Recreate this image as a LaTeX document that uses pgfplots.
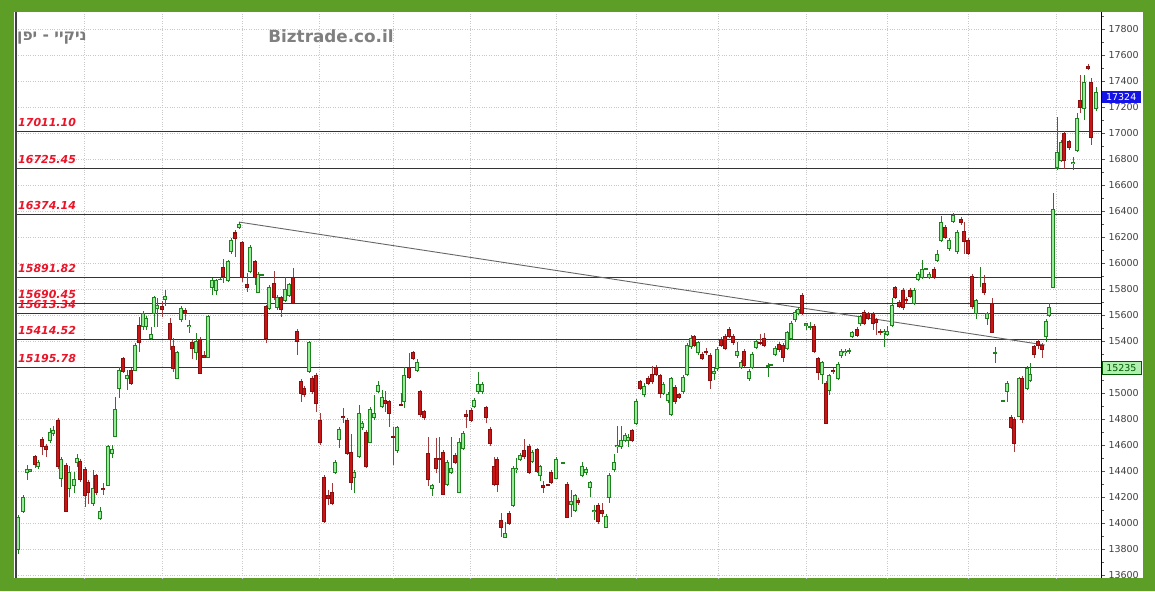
\documentclass[border=0pt]{standalone}
\usepackage{fontspec}
\setmainfont{DejaVu Sans}
\newfontfamily\hebfont[Script=Hebrew]{DejaVu Sans}
\usepackage{pgfplots}
\usepackage{pgfplotstable}
\pgfplotsset{compat=1.18}
\TeXXeTstate=1

\definecolor{frame}{RGB}{92,158,38}
\definecolor{upfill}{RGB}{150,235,150}
\definecolor{upline}{RGB}{30,130,30}
\definecolor{dnfill}{RGB}{205,20,20}
\definecolor{dnline}{RGB}{135,15,15}
\definecolor{dnwick}{RGB}{160,60,60}
\definecolor{lvl}{RGB}{235,20,40}
\definecolor{gridc}{RGB}{200,200,200}
\definecolor{boxblue}{RGB}{20,20,230}
\definecolor{boxgreen}{RGB}{175,240,175}
\definecolor{boxgreenline}{RGB}{0,90,0}

\pgfplotstableread{
x o h l c
18 13800 14062 13762 14046
23 14092 14215 14077 14200
27 14385 14446 14331 14415
30 14400 14415 14392 14408
35 14515 14523 14423 14454
38 14431 14485 14415 14469
42 14646 14662 14523 14592
46 14592 14608 14508 14562
50 14631 14731 14615 14700
53 14685 14746 14669 14715
58 14792 14808 14415 14431
61 14346 14508 14277 14492
66 14446 14462 14085 14092
69 14262 14438 14200 14392
74 14292 14392 14231 14331
77 14462 14531 14431 14500
80 14477 14492 14315 14331
85 14415 14431 14123 14208
88 14315 14331 14146 14231
93 14154 14408 14131 14269
96 14362 14377 14215 14231
100 14031 14123 14023 14085
103 14269 14308 14215 14254
108 14292 14600 14285 14585
112 14531 14600 14500 14569
115 14669 14969 14662 14877
119 15038 15200 14962 15177
123 15262 15277 15154 15169
127 15108 15177 15023 15131
131 15177 15192 15062 15077
135 15177 15385 15169 15369
139 15523 15585 15315 15385
143 15508 15631 15485 15615
146 15508 15592 15485 15577
151 15423 15508 15408 15454
154 15615 15746 15508 15731
157 15654 15731 15508 15677
162 15662 15708 15585 15646
165 15723 15792 15669 15746
170 15531 15577 15331 15408
173 15354 15423 15162 15185
177 15115 15323 15108 15308
181 15562 15669 15546 15654
185 15638 15654 15562 15615
189 15508 15562 15462 15523
192 15385 15408 15262 15346
196 15315 15462 15254 15400
200 15415 15431 15146 15154
204 15292 15323 15269 15277
208 15277 15600 15269 15585
212 15815 15885 15754 15869
216 15792 15877 15754 15869
220 15873 15885 15869 15877
223 15962 16031 15846 15900
228 15862 16023 15854 16008
231 16085 16192 16069 16177
235 16231 16254 16046 16185
239 16277 16315 16262 16300
242 16154 16169 15854 15892
247 15838 15923 15777 15815
250 15931 16138 15923 16123
255 16008 16023 15831 15892
258 15777 15931 15769 15915
262 15905 15915 15900 15908
266 15662 15677 15385 15423
269 15654 15831 15638 15815
274 15846 15938 15715 15738
277 15654 15754 15638 15738
281 15731 15746 15585 15646
285 15715 15892 15700 15800
289 15754 15846 15738 15831
293 15892 15962 15685 15692
297 15477 15492 15292 15400
301 15092 15108 14931 15000
304 15038 15054 14969 14985
309 15162 15400 15154 15385
312 15115 15131 14992 15008
316 15138 15154 14854 14923
320 14792 14846 14600 14623
324 14354 14369 14000 14008
328 14215 14254 14138 14185
332 14238 14308 14138 14154
335 14392 14485 14377 14469
339 14646 14738 14577 14723
343 14823 14885 14769 14808
347 14792 14808 14523 14538
351 14546 14685 14254 14315
354 14354 14408 14231 14392
359 14508 14908 14500 14846
362 14731 14785 14715 14769
366 14700 14715 14423 14438
370 14623 14892 14615 14877
374 14808 14985 14792 14846
378 15008 15092 15000 15054
382 14900 15023 14885 14969
385 14946 15015 14854 14923
389 14931 14946 14738 14846
393 14669 14738 14446 14662
397 14554 14746 14538 14731
401 14915 15000 14900 14908
404 14938 15200 14885 15138
409 15200 15308 15108 15123
413 15308 15323 15254 15269
417 15177 15262 15162 15231
420 15008 15023 14815 14831
424 14854 14869 14792 14808
428 14538 14662 14285 14331
432 14269 14300 14208 14285
436 14500 14654 14385 14423
439 14500 14662 14308 14492
443 14546 14562 14215 14223
447 14300 14485 14285 14469
451 14392 14662 14377 14423
455 14523 14538 14454 14469
459 14238 14654 14231 14623
463 14577 14708 14562 14692
466 14838 14869 14731 14823
471 14869 14885 14777 14792
474 14900 14962 14885 14946
478 15008 15162 14992 15069
482 15008 15085 14992 15069
486 14885 14900 14769 14815
490 14723 14738 14592 14608
494 14431 14508 14285 14300
497 14492 14508 14238 14300
501 14023 14077 13892 13962
505 13892 14008 13885 13923
509 14077 14092 13985 14000
513 14131 14438 14123 14423
516 14408 14500 14385 14423
520 14492 14538 14477 14523
524 14554 14646 14492 14508
529 14592 14608 14377 14392
532 14477 14562 14462 14546
537 14562 14577 14385 14400
540 14369 14446 14323 14431
543 14292 14323 14231 14277
548 14295 14300 14285 14290
551 14392 14408 14300 14315
556 14346 14508 14338 14492
563 14462 14469 14458 14465
567 14300 14315 14038 14046
571 14146 14254 14046 14162
575 14100 14223 14085 14208
578 14177 14192 14138 14154
582 14369 14469 14354 14431
586 14385 14431 14369 14415
590 14277 14323 14200 14308
594 14092 14138 14023 14100
598 14138 14154 13992 14008
602 14100 14154 14046 14077
606 13969 14069 13962 14054
609 14200 14385 14154 14369
614 14408 14531 14392 14462
617 14585 14746 14538 14600
621 14585 14746 14569 14638
625 14638 14692 14623 14677
628 14631 14685 14585 14654
632 14708 14723 14623 14638
636 14769 14954 14754 14938
640 15085 15100 15023 15038
644 14985 15077 14969 15054
648 15115 15131 15062 15077
652 15146 15208 15069 15085
656 15200 15215 15131 15146
660 15131 15146 14962 15000
663 15000 15085 14985 15069
668 14946 15008 14923 14985
671 14831 15123 14823 15108
675 15046 15062 14915 14931
679 14985 15000 14954 14969
683 15008 15138 14992 15123
687 15146 15385 15131 15369
691 15354 15446 15338 15423
694 15431 15446 15354 15369
698 15308 15400 15292 15385
702 15300 15315 15254 15269
706 15323 15346 15292 15315
710 15292 15308 15031 15100
714 15154 15192 15100 15169
717 15185 15354 15169 15338
721 15415 15431 15354 15369
725 15438 15454 15331 15346
729 15492 15508 15423 15438
733 15438 15454 15369 15385
737 15285 15392 15269 15323
741 15200 15254 15185 15238
744 15323 15338 15200 15215
749 15108 15185 15092 15169
752 15200 15315 15185 15300
756 15354 15415 15338 15400
760 15392 15454 15369 15385
764 15423 15462 15354 15369
768 15208 15231 15123 15215
771 15213 15220 15208 15216
775 15300 15362 15285 15346
779 15377 15392 15315 15331
783 15369 15385 15238 15277
787 15346 15477 15331 15462
791 15423 15554 15408 15538
795 15562 15638 15546 15623
798 15615 15662 15600 15646
802 15754 15769 15600 15615
806 15523 15538 15485 15531
810 15508 15546 15485 15515
814 15515 15531 15308 15323
818 15262 15277 15100 15154
822 15146 15246 15069 15231
826 15077 15092 14762 14769
829 15023 15146 14985 15131
833 15177 15192 15146 15162
838 15115 15238 15100 15223
841 15285 15338 15269 15323
845 15308 15338 15285 15323
849 15323 15346 15300 15325
852 15438 15477 15423 15462
857 15492 15508 15431 15446
860 15531 15600 15515 15585
864 15623 15638 15523 15538
868 15608 15623 15562 15577
873 15608 15623 15485 15531
876 15562 15577 15446 15546
880 15477 15492 15446 15462
884 15462 15492 15354 15477
887 15454 15515 15438 15477
892 15523 15731 15508 15677
895 15808 15823 15723 15738
899 15700 15715 15654 15669
903 15792 15808 15638 15654
906 15723 15738 15692 15708
910 15792 15808 15731 15746
914 15692 15808 15677 15792
918 15877 15931 15862 15915
922 15892 16023 15877 15954
926 15952 15962 15946 15955
929 15892 15931 15877 15915
934 15954 15969 15877 15892
937 16023 16100 16008 16069
941 16177 16362 16162 16315
945 16277 16292 16185 16200
949 16108 16192 16092 16177
953 16323 16385 16308 16369
957 16085 16254 16069 16238
961 16338 16354 16292 16308
964 16246 16315 16069 16169
968 16177 16192 16062 16077
972 15900 15915 15646 15662
976 15615 15723 15569 15708
980 15890 15969 15815 15892
984 15846 15908 15754 15777
987 15577 15623 15523 15608
992 15685 15731 15462 15469
995 15306 15354 15231 15308
1003 14938 14946 14931 14940
1007 15008 15092 14931 15077
1011 14815 14831 14723 14738
1014 14800 14815 14546 14615
1019 14823 15123 14815 15108
1022 15115 15131 14769 14800
1027 15038 15208 15023 15192
1030 15100 15231 15085 15146
1034 15354 15369 15269 15300
1038 15400 15415 15338 15369
1042 15369 15385 15269 15331
1046 15438 15569 15392 15554
1049 15600 15692 15585 15654
1053 15815 16538 15808 16415
1057 16731 17123 16715 16854
1061 16792 16946 16777 16931
1064 17000 17015 16723 16792
1069 16931 16946 16869 16885
1073 16762 16815 16715 16777
1077 16869 17154 16854 17115
1080 17254 17446 17154 17200
1084 17192 17446 17100 17392
1088 17515 17531 17485 17500
1091 17385 17423 16908 16969
1096 17185 17354 17169 17315
}\candles

\pgfplotsset{
  candle/.style 2 args={draw=none, fill=none, mark=none, forget plot,
    error bars/y dir=both, error bars/y explicit, error bars/error mark=none,
    error bars/error bar style={line width=#2, draw=#1, solid}},
  upset/.style={restrict expr to domain={\thisrow{c}-\thisrow{o}}{0:100000}},
  dnset/.style={restrict expr to domain={\thisrow{c}-\thisrow{o}}{-100000:-0.001}},
}

\begin{document}
\begin{tikzpicture}[x=1pt,y=1pt]
\useasboundingbox (0,0) rectangle (1155,591);
\fill[frame] (0,0) rectangle (1155,591);
\fill[white] (14,13) rectangle (1143,579);

\begin{axis}[
  at={(16pt,13pt)}, anchor=south west,
  width=1085pt, height=566pt, scale only axis,
  xmin=16, xmax=1101, ymin=13577, ymax=17931,
  axis line style={draw=none},
  xtick={84,162,242,319,393,470,556,636,718,806,887,968,1056},
  xticklabels={}, major x tick style={draw=none},
  ytick={13600,13800,14000,14200,14400,14600,14800,15000,15400,15600,15800,16000,16200,16400,16600,16800,17000,17200,17400,17600,17800},
  extra y ticks={15200}, extra y tick labels={},
  extra y tick style={grid=major},
  minor ytick={13700,13900,14100,14300,14500,14700,14900,15100,15300,15500,15700,15900,16100,16300,16500,16700,16900,17100,17300,17500,17700,17900},
  scaled y ticks=false,
  ytick pos=right, yticklabel pos=right,
  tick align=outside, major tick length=4pt, minor tick length=2.5pt,
  y tick style={draw=black!65, line width=0.6pt},
  yticklabel style={font=\fontsize{9.5}{10}\selectfont, text=black!75, anchor=west},
  /pgf/number format/1000 sep={},
  /pgf/number format/assume math mode=true,
  grid=major, major grid style={gridc, dotted, line width=0.7pt},
  clip mode=individual,
]

% level lines
\addplot[black!80, line width=1.1pt, forget plot] coordinates {(16,17011.10) (1101,17011.10)};
\addplot[black!80, line width=1.1pt, forget plot] coordinates {(16,16725.45) (1101,16725.45)};
\addplot[black!80, line width=1.1pt, forget plot] coordinates {(16,16374.14) (1101,16374.14)};
\addplot[black!80, line width=1.1pt, forget plot] coordinates {(16,15891.82) (1101,15891.82)};
\addplot[black!80, line width=1.1pt, forget plot] coordinates {(16,15690.45) (1101,15690.45)};
\addplot[black!80, line width=1.1pt, forget plot] coordinates {(16,15613.34) (1101,15613.34)};
\addplot[black!80, line width=1.1pt, forget plot] coordinates {(16,15414.52) (1101,15414.52)};
\addplot[black!80, line width=1.1pt, forget plot] coordinates {(16,15195.78) (1101,15195.78)};

% trend line
\addplot[black!60, line width=0.9pt, forget plot] coordinates {(239,16315) (1045,15369)};

% wicks
\addplot[candle={upline}{1pt}, upset] table[x=x, y expr={(\thisrow{h}+\thisrow{l})/2}, y error expr={(\thisrow{h}-\thisrow{l})/2}] {\candles};
\addplot[candle={dnwick}{1pt}, dnset] table[x=x, y expr={(\thisrow{h}+\thisrow{l})/2}, y error expr={(\thisrow{h}-\thisrow{l})/2}] {\candles};
% bodies outer
\addplot[candle={upline}{3.2pt}, upset] table[x=x, y expr={(\thisrow{o}+\thisrow{c})/2}, y error expr={abs(\thisrow{c}-\thisrow{o})/2+3.85}] {\candles};
\addplot[candle={dnline}{3.2pt}, dnset] table[x=x, y expr={(\thisrow{o}+\thisrow{c})/2}, y error expr={abs(\thisrow{c}-\thisrow{o})/2+3.85}] {\candles};
% bodies inner
\addplot[candle={upfill}{1.3pt}, upset] table[x=x, y expr={(\thisrow{o}+\thisrow{c})/2}, y error expr={max(abs(\thisrow{c}-\thisrow{o})/2-3.85,0)}] {\candles};
\addplot[candle={dnfill}{1.3pt}, dnset] table[x=x, y expr={(\thisrow{o}+\thisrow{c})/2}, y error expr={max(abs(\thisrow{c}-\thisrow{o})/2-3.85,0)}] {\candles};

% level labels
\begin{scope}[every node/.style={anchor=south west, inner sep=0pt, text=lvl, font=\fontsize{11}{11}\selectfont\bfseries\itshape, yshift=4.5pt}]
\node at (axis cs:18,17011.10) {17011.10};
\node at (axis cs:18,16725.45) {16725.45};
\node at (axis cs:18,16374.14) {16374.14};
\node at (axis cs:18,15891.82) {15891.82};
\node at (axis cs:18,15690.45) {15690.45};
\node at (axis cs:18,15613.34) {15613.34};
\node at (axis cs:18,15414.52) {15414.52};
\node at (axis cs:18,15195.78) {15195.78};
\end{scope}

% axis lines
\draw[black!75, line width=2.2pt] (rel axis cs:0,0) -- (rel axis cs:0,1);
\draw[black, line width=0.9pt] (rel axis cs:1,0) -- (rel axis cs:1,1);

% price boxes
\node[anchor=west, fill=boxblue, text=white, inner sep=0pt, minimum width=39pt, minimum height=12.5pt, font=\fontsize{9.5}{10}\selectfont] at (axis cs:1101.5,17277) {17324};
\node[anchor=west, fill=boxgreen, draw=boxgreenline, line width=0.8pt, text=boxgreenline, inner sep=0pt, minimum width=39pt, minimum height=12.5pt, font=\fontsize{9.5}{10}\selectfont] at (axis cs:1101.5,15192) {15235};
\end{axis}

% titles
\node[anchor=west, inner sep=0pt, text=black!52, font=\hebfont\bfseries\fontsize{15.5}{16}\selectfont] at (17,553) {\beginR ניקיי - יפן\endR};
\node[anchor=center, inner sep=0pt, text=black!50, font=\bfseries\fontsize{16.8}{17}\selectfont] at (331,555) {Biztrade.co.il};
\end{tikzpicture}
\end{document}
